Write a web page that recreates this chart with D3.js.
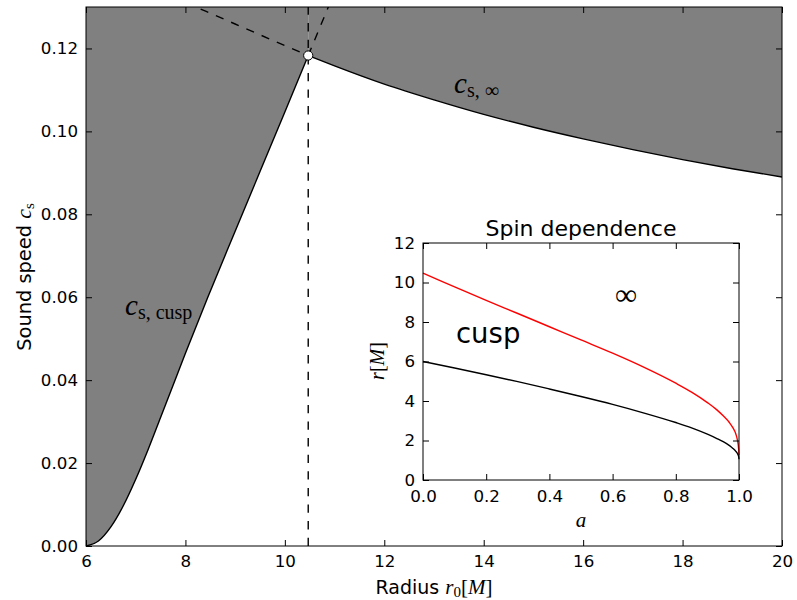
<!DOCTYPE html>
<html><head><meta charset="utf-8">
<script src="https://cdn.jsdelivr.net/npm/d3@7"></script>
<style>body{margin:0;background:#fff}svg{display:block}</style>
</head><body>
<script>
// ---- data ----
const cuspR  = [6.0, 6.25, 6.5, 6.75, 7.0, 7.25, 7.5, 7.81, 8.0, 8.45, 9.0, 9.5, 10.0, 10.47];
const cuspCs = [0.0, 0.0012, 0.0046, 0.0097, 0.0161, 0.0233, 0.0310, 0.0406, 0.0465, 0.0600, 0.0759, 0.0903, 0.1047, 0.1183];
const infR   = [10.47, 11, 12, 13, 14, 15, 16, 17, 18, 19, 20];
const infCs  = [0.1183, 0.1158, 0.1114, 0.1076, 0.1041, 0.1010, 0.0982, 0.0956, 0.0932, 0.0910, 0.0890];
const infExtR  = [8.0, 9.0, 10.0, 10.47];
const infExtCs = [0.1311, 0.1259, 0.1207, 0.1183];
const cuspExtR  = [10.47, 10.95];
const cuspExtCs = [0.1183, 0.1322];
const rCross = 10.47, csCross = 0.1183;
const xTicks = [6, 8, 10, 12, 14, 16, 18, 20];
const yTicks = [0.00, 0.02, 0.04, 0.06, 0.08, 0.10, 0.12];

const spinA     = [0, 0.1, 0.2, 0.3, 0.4, 0.5, 0.6, 0.7, 0.8, 0.85, 0.9, 0.93, 0.95, 0.97, 0.98, 0.99, 0.995, 0.999, 1.0];
const rInfSpin  = [10.47, 9.78, 9.09, 8.43, 7.76, 7.09, 6.42, 5.70, 4.90, 4.45, 3.92, 3.55, 3.25, 2.90, 2.66, 2.33, 2.02, 1.55, 1.25];
const rCuspSpin = [6.00, 5.67, 5.33, 4.98, 4.61, 4.23, 3.83, 3.39, 2.91, 2.64, 2.32, 2.10, 1.94, 1.74, 1.61, 1.45, 1.34, 1.18, 1.05];
const insetXTicks = [0.0, 0.2, 0.4, 0.6, 0.8, 1.0];
const insetYTicks = [0, 2, 4, 6, 8, 10, 12];

// ---- drawing ----
const W = 797, H = 600;
const SERIF = "'Liberation Serif', 'DejaVu Serif', serif";
const svg = d3.select("body").append("svg").attr("width", W).attr("height", H)
  .style("font-family", "'DejaVu Sans', sans-serif");

const x = d3.scaleLinear().domain([6, 20]).range([86, 782]);
const y = d3.scaleLinear().domain([0, 0.13]).range([546, 7]);
const zip = (a, b) => a.map((v, i) => [v, b[i]]);

svg.append("defs").append("clipPath").attr("id", "mainclip")
  .append("rect").attr("x", 86).attr("y", 7).attr("width", 696).attr("height", 539);

const g = svg.append("g").attr("clip-path", "url(#mainclip)");
const yTop = y.domain()[1];

const area = d3.area().x(d => x(d[0])).y0(y(yTop)).y1(d => y(d[1])).curve(d3.curveMonotoneX);
g.append("path").datum(zip(cuspR, cuspCs)).attr("d", area).attr("fill", "#808080");
g.append("path").datum(zip(infR, infCs)).attr("d", area).attr("fill", "#808080");

const line = d3.line().x(d => x(d[0])).y(d => y(d[1])).curve(d3.curveMonotoneX);
const dash = "8.3,8.3";
g.append("path").datum(zip(cuspR, cuspCs)).attr("d", line).attr("fill", "none").attr("stroke", "#000").attr("stroke-width", 1.4);
g.append("path").datum(zip(infR, infCs)).attr("d", line).attr("fill", "none").attr("stroke", "#000").attr("stroke-width", 1.4);
g.append("path").datum(zip(infExtR, infExtCs)).attr("d", line).attr("fill", "none").attr("stroke", "#000").attr("stroke-width", 1.4).attr("stroke-dasharray", dash);
g.append("path").datum(zip(cuspExtR, cuspExtCs)).attr("d", d3.line().x(d => x(d[0])).y(d => y(d[1]))).attr("fill", "none").attr("stroke", "#000").attr("stroke-width", 1.4).attr("stroke-dasharray", dash);
g.append("line").attr("x1", x(rCross)).attr("x2", x(rCross)).attr("y1", y(0)).attr("y2", y(yTop))
  .attr("stroke", "#000").attr("stroke-width", 1.4).attr("stroke-dasharray", dash);
g.append("circle").attr("cx", x(rCross)).attr("cy", y(csCross)).attr("r", 4.6)
  .attr("fill", "#fff").attr("stroke", "#000").attr("stroke-width", 1);

// math labels
const mathLabel = (px, py, sub) => {
  const t = svg.append("text").attr("x", px).attr("y", py).style("font-family", SERIF);
  t.append("tspan").text("c").style("font-style", "italic").style("font-size", "29px");
  t.append("tspan").text(sub).style("font-size", "20px").attr("dy", 4);
};
mathLabel(125, 315, "s, cusp");
mathLabel(454, 93, "s, ∞");

// axes (ticks inward on all sides)
const mkAxis = (gen, tr) => {
  const a = svg.append("g").attr("transform", tr).call(gen);
  a.select(".domain").remove();
  a.selectAll("line").attr("stroke", "#000").attr("stroke-width", 1);
  a.selectAll("text").style("font-size", "16.7px").style("font-family", "'DejaVu Sans', sans-serif").attr("fill", "#000");
  return a;
};
mkAxis(d3.axisBottom(x).tickValues(xTicks).tickFormat(d3.format("d")).tickSize(-6).tickPadding(9), "translate(0,546)");
mkAxis(d3.axisTop(x).tickValues(xTicks).tickFormat("").tickSize(-6), "translate(0,7)");
mkAxis(d3.axisLeft(y).tickValues(yTicks).tickFormat(d3.format(".2f")).tickSize(-6).tickPadding(8), "translate(86,0)");
mkAxis(d3.axisRight(y).tickValues(yTicks).tickFormat("").tickSize(-6), "translate(782,0)");
svg.append("rect").attr("x", 86).attr("y", 7).attr("width", 696).attr("height", 539)
  .attr("fill", "none").attr("stroke", "#000").attr("stroke-width", 1);

// axis labels
const xl = svg.append("text").attr("x", 434).attr("y", 594).attr("text-anchor", "middle").style("font-size", "19px");
xl.append("tspan").text("Radius ");
xl.append("tspan").text("r").style("font-family", SERIF).style("font-style", "italic").style("font-size", "21px");
xl.append("tspan").text("0").style("font-family", SERIF).style("font-size", "15px").attr("dy", 3);
xl.append("tspan").text("[").style("font-family", SERIF).style("font-size", "21px").attr("dy", -3);
xl.append("tspan").text("M").style("font-family", SERIF).style("font-style", "italic").style("font-size", "21px");
xl.append("tspan").text("]").style("font-family", SERIF).style("font-size", "21px");

const yl = svg.append("text").attr("transform", "translate(31,277) rotate(-90)").attr("text-anchor", "middle").style("font-size", "19.4px");
yl.append("tspan").text("Sound speed ");
yl.append("tspan").text("c").style("font-family", SERIF).style("font-style", "italic").style("font-size", "22px");
yl.append("tspan").text("s").style("font-family", SERIF).style("font-size", "15px").attr("dy", 3);

// ---- inset ----
const ix = d3.scaleLinear().domain([0, 1]).range([423, 739]);
const iy = d3.scaleLinear().domain([0, 12]).range([480, 243]);
svg.append("rect").attr("x", 423).attr("y", 243).attr("width", 316).attr("height", 237).attr("fill", "#fff");
const iline = d3.line().x(d => ix(d[0])).y(d => iy(d[1])).curve(d3.curveMonotoneX);
svg.append("path").datum(zip(spinA, rInfSpin)).attr("d", iline).attr("fill", "none").attr("stroke", "#ff0000").attr("stroke-width", 1.4);
svg.append("path").datum(zip(spinA, rCuspSpin)).attr("d", iline).attr("fill", "none").attr("stroke", "#000").attr("stroke-width", 1.4);

mkAxis(d3.axisBottom(ix).tickValues(insetXTicks).tickFormat(d3.format(".1f")).tickSize(-6).tickPadding(10), "translate(0,480)");
mkAxis(d3.axisTop(ix).tickValues(insetXTicks).tickFormat("").tickSize(-6), "translate(0,243)");
mkAxis(d3.axisLeft(iy).tickValues(insetYTicks).tickFormat(d3.format("d")).tickSize(-6).tickPadding(8), "translate(423,0)");
mkAxis(d3.axisRight(iy).tickValues(insetYTicks).tickFormat("").tickSize(-6), "translate(739,0)");
svg.append("rect").attr("x", 423).attr("y", 243).attr("width", 316).attr("height", 237)
  .attr("fill", "none").attr("stroke", "#000").attr("stroke-width", 1);

svg.append("text").attr("x", 581).attr("y", 236).attr("text-anchor", "middle").style("font-size", "22px").text("Spin dependence");
svg.append("text").attr("x", 456).attr("y", 343).style("font-size", "27.5px").text("cusp");
svg.append("text").attr("x", 626).attr("y", 305).attr("text-anchor", "middle").style("font-family", SERIF).style("font-size", "31px").text("∞");
svg.append("text").attr("x", 581).attr("y", 527).attr("text-anchor", "middle").style("font-family", SERIF).style("font-style", "italic").style("font-size", "21px").text("a");
const il = svg.append("text").attr("transform", "translate(384,361) rotate(-90)").attr("text-anchor", "middle").style("font-family", SERIF).style("font-size", "20px");
il.append("tspan").text("r").style("font-style", "italic");
il.append("tspan").text("[");
il.append("tspan").text("M").style("font-style", "italic");
il.append("tspan").text("]");
</script>
</body></html>
